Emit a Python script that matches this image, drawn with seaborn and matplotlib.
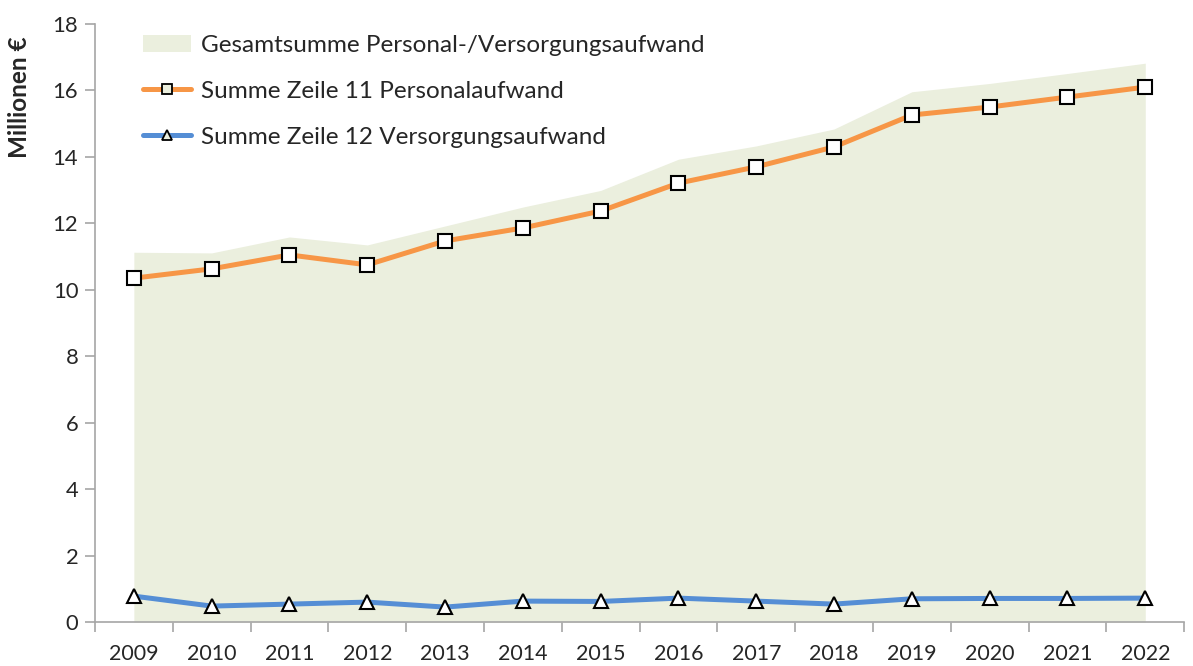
import numpy as np
import pandas as pd
import seaborn as sns
import matplotlib.pyplot as plt
from matplotlib.patches import Patch
from matplotlib.lines import Line2D

# Daten (Millionen €)
jahre = ["2009", "2010", "2011", "2012", "2013", "2014", "2015",
         "2016", "2017", "2018", "2019", "2020", "2021", "2022"]
personal = [10.35, 10.63, 11.05, 10.75, 11.47, 11.86, 12.37,
            13.21, 13.70, 14.30, 15.26, 15.50, 15.80, 16.10]
versorgung = [0.78, 0.48, 0.54, 0.60, 0.45, 0.63, 0.62,
              0.72, 0.63, 0.54, 0.70, 0.71, 0.71, 0.72]
gesamt = [11.13, 11.11, 11.59, 11.35, 11.92, 12.49, 12.99,
          13.93, 14.33, 14.84, 15.96, 16.21, 16.51, 16.82]

df = pd.DataFrame({"idx": range(len(jahre)), "jahr": jahre,
                   "personal": personal, "versorgung": versorgung,
                   "gesamt": gesamt})

sns.set_style("white")
plt.rcParams["font.family"] = ["Lato", "DejaVu Sans"]

fig = plt.figure(figsize=(11.93, 6.66), dpi=100)
ax = fig.add_axes([0.0796, 0.066, 0.913, 0.898])

area_col = "#EBEFDE"
orange = "#F79646"
blue = "#558ED5"

ax.fill_between(df["idx"], df["gesamt"], color=area_col, lw=0, zorder=1)
sns.lineplot(data=df, x="idx", y="personal", ax=ax, color=orange, lw=3.6,
             marker="s", markersize=10, markerfacecolor="white",
             markeredgecolor="black", markeredgewidth=1.5, zorder=3)
sns.lineplot(data=df, x="idx", y="versorgung", ax=ax, color=blue, lw=3.6,
             marker="^", markersize=10, markerfacecolor="white",
             markeredgecolor="black", markeredgewidth=1.5, zorder=3)

ax.set_xlim(-0.5, len(jahre) - 0.5)
ax.set_ylim(0, 18)
ax.set_yticks(np.arange(0, 19, 2))
ax.set_xticks(df["idx"])
ax.set_xticklabels(jahre)
ax.set_xticks(np.arange(-0.5, len(jahre), 1), minor=True)
ax.tick_params(axis="x", which="major", length=0, pad=16, labelsize=15.4)
ax.tick_params(axis="x", which="minor", length=7, width=1.2, color="#A6A6A6",
               bottom=True)
ax.tick_params(axis="y", length=7, width=1.2, color="#A6A6A6", pad=5,
               labelsize=15.8, left=True)
ax.set_xlabel("")
ax.set_ylabel("Millionen €", fontsize=17.5, fontweight="bold",
              va="center", ha="center")
ax.yaxis.set_label_coords(-0.069, 0.878)

for s in ["top", "right"]:
    ax.spines[s].set_visible(False)
for s in ["left", "bottom"]:
    ax.spines[s].set_color("#A6A6A6")
    ax.spines[s].set_linewidth(1.2)

handles = [
    Patch(facecolor=area_col, edgecolor="none"),
    Line2D([], [], color=orange, lw=3.6, marker="s", markersize=7,
           markerfacecolor=area_col, markeredgecolor="black", markeredgewidth=1.3),
    Line2D([], [], color=blue, lw=3.6, marker="^", markersize=7,
           markerfacecolor=area_col, markeredgecolor="black", markeredgewidth=1.3),
]
labels = ["Gesamtsumme Personal-/Versorgungsaufwand",
          "Summe Zeile 11 Personalaufwand",
          "Summe Zeile 12 Versorgungsaufwand"]
ax.legend(handles, labels, loc="upper left", bbox_to_anchor=(0.035, 0.998),
          frameon=False, fontsize=17.5, handlelength=2.0, handletextpad=0.4,
          labelspacing=1.02, borderaxespad=0.0)

fig.savefig("out.png", dpi=100)
